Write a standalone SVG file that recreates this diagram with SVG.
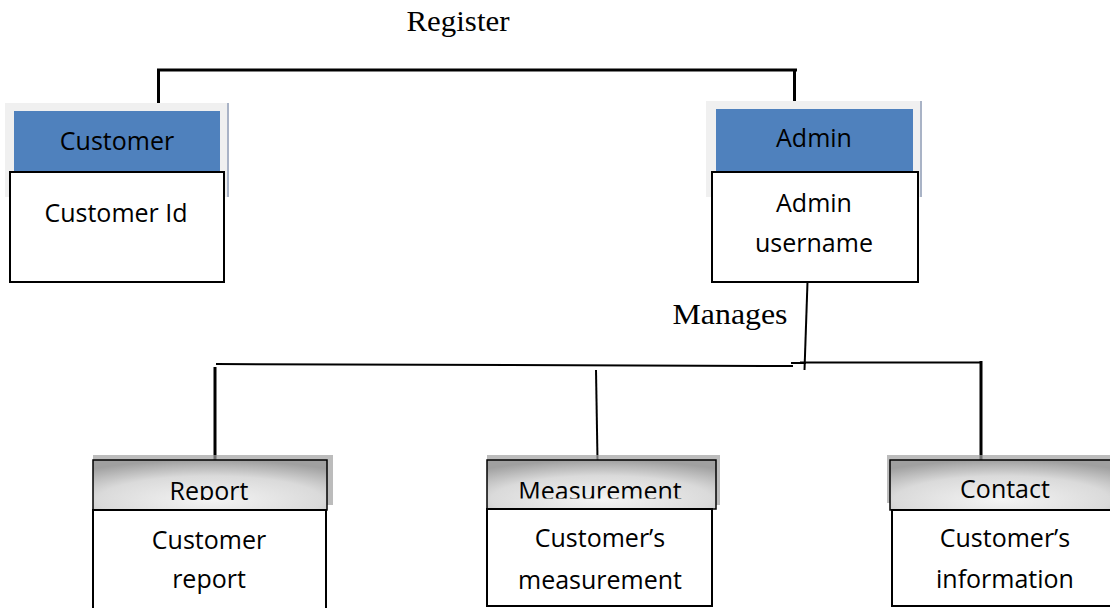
<svg xmlns="http://www.w3.org/2000/svg" width="1110" height="608" viewBox="0 0 1110 608">
<defs>
<style>
.lbl{font-family:"Open Sans","Liberation Sans",sans-serif;font-size:25px;fill:#000;text-anchor:middle}
.rel{font-family:"Liberation Serif","Times New Roman",serif;font-size:29px;fill:#000;text-anchor:middle}
.frame{fill:#f0f0f0}
.blue{fill:#4f81bd}
.edge{fill:#a9b3c6}
.body{fill:#fff;stroke:#000;stroke-width:2}
.ghead{fill:url(#g);stroke:#000;stroke-width:1.5}
.shadow{fill:#a0a0a0}
.conn{stroke:#000;fill:none}
</style>
<radialGradient id="g" cx="0.5" cy="0.8" r="0.8">
<stop offset="0" stop-color="#f4f4f4"/>
<stop offset="0.6" stop-color="#dadada"/>
<stop offset="1" stop-color="#a0a0a0"/>
</radialGradient>
<clipPath id="c1"><rect x="0" y="455" width="1110" height="45"/></clipPath>
<clipPath id="c2"><rect x="0" y="455" width="1110" height="43.5"/></clipPath>
</defs>
<rect width="1110" height="608" fill="#fff"/>

<g id="connectors">
<text class="rel" x="458" y="31" textLength="103" lengthAdjust="spacingAndGlyphs">Register</text>
<path class="conn" stroke-width="3" d="M158.5 103 V70 H797 M794.5 70 V101"/>
<text class="rel" x="730" y="324" textLength="115" lengthAdjust="spacingAndGlyphs">Manages</text>
<path class="conn" stroke-width="2" d="M807.5 282 L804.5 370"/>
<path class="conn" stroke-width="2" d="M216 364 L793 366 M791 363 L806 363 M800 362.5 L981 362.5"/>
<path class="conn" stroke-width="3" d="M215 367 V460 M981 361 V460"/>
<path class="conn" stroke-width="2" d="M596 370 L597.5 460"/>
</g>

<g id="customer">
<rect class="frame" x="5" y="103" width="224" height="94"/>
<rect class="edge" x="227" y="103" width="2" height="94"/>
<rect class="blue" x="14" y="111" width="206" height="61"/>
<text class="lbl" x="117" y="150">Customer</text>
<rect class="body" x="10" y="172" width="214" height="110"/>
<text class="lbl" x="116" y="222">Customer Id</text>
</g>

<g id="admin">
<rect class="frame" x="706" y="101" width="216" height="96"/>
<rect class="edge" x="920" y="101" width="2" height="96"/>
<rect class="blue" x="716" y="109" width="197" height="63"/>
<text class="lbl" x="814" y="147">Admin</text>
<rect class="body" x="712" y="172" width="206" height="110"/>
<text class="lbl" x="814" y="212">Admin</text>
<text class="lbl" x="814" y="252">username</text>
</g>

<g id="report">
<rect class="shadow" x="93" y="455" width="240" height="50" opacity="0.7"/>
<rect class="ghead" x="93" y="460" width="234" height="50"/>
<text class="lbl" x="209" y="500" clip-path="url(#c1)">Report</text>
<rect class="body" x="93" y="510" width="233" height="104"/>
<text class="lbl" x="209" y="549">Customer</text>
<text class="lbl" x="209" y="588">report</text>
</g>

<g id="measurement">
<rect class="shadow" x="487" y="455" width="233" height="50" opacity="0.7"/>
<rect class="ghead" x="487" y="460" width="229" height="49"/>
<text class="lbl" x="600" y="500" clip-path="url(#c2)">Measurement</text>
<rect class="body" x="487" y="509" width="225" height="97"/>
<text class="lbl" x="600" y="547">Customer’s</text>
<text class="lbl" x="600" y="589">measurement</text>
</g>

<g id="contact">
<rect class="shadow" x="887" y="455" width="230" height="48" opacity="0.7"/>
<rect class="ghead" x="890" y="460" width="224" height="50"/>
<text class="lbl" x="1005" y="498" clip-path="url(#c1)">Contact</text>
<rect class="body" x="892" y="510" width="222" height="96"/>
<text class="lbl" x="1005" y="547">Customer’s</text>
<text class="lbl" x="1005" y="588">information</text>
</g>
</svg>
